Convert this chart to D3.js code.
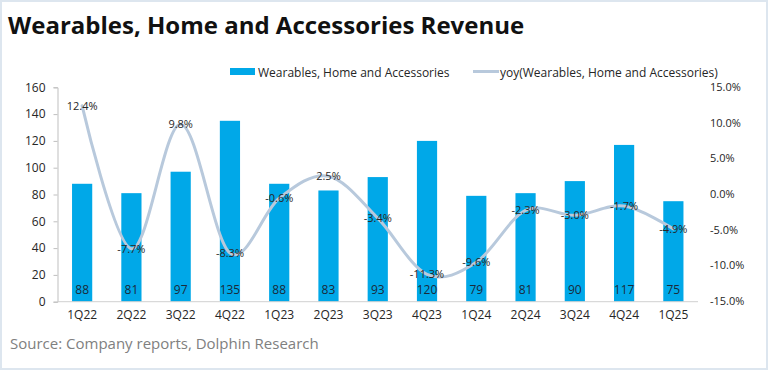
<!DOCTYPE html>
<html><head><meta charset="utf-8">
<script src="https://cdn.jsdelivr.net/npm/d3@7"></script>
<style>body{margin:0;background:#fff}svg{display:block}</style>
</head><body>
<svg id="c" width="768" height="370"></svg>
<script>
const categories = ["1Q22","2Q22","3Q22","4Q22","1Q23","2Q23","3Q23","4Q23","1Q24","2Q24","3Q24","4Q24","1Q25"];
const revenue = [88,81,97,135,88,83,93,120,79,81,90,117,75];
const yoy = [12.4,-7.7,9.8,-8.3,-0.6,2.5,-3.4,-11.3,-9.6,-2.3,-3.0,-1.7,-4.9];
const leftTicks = [0,20,40,60,80,100,120,140,160];
const rightTicks = [-15,-10,-5,0,5,10,15];

const svg = d3.select("#c");
const font = "'Open Sans', 'Noto Sans', sans-serif";
svg.append("rect").attr("x",1).attr("y",1).attr("width",766).attr("height",368)
  .attr("fill","#fff").attr("stroke","#dde6ef").attr("stroke-width",2);

const L=57.5, R=698, T=87.3, B=301.7;
const x = d3.scaleBand().domain(categories).range([L,R]).paddingInner(0.59).paddingOuter(0.295);
const y = d3.scaleLinear().domain([0,160]).range([B,T]);
const y2 = d3.scaleLinear().domain([-15,15]).range([B-1,T]);

svg.append("text").attr("x",8).attr("y",34).attr("font-family",font).attr("font-weight",700)
  .attr("font-size",24).attr("fill","#111").text("Wearables, Home and Accessories Revenue");

// left axis
const gl = svg.append("g").attr("transform",`translate(${L},0)`)
  .call(d3.axisLeft(y).tickValues(leftTicks).tickSize(4).tickPadding(8));
gl.select(".domain").attr("stroke","#bfbfbf");
gl.selectAll(".tick line").attr("stroke","#bfbfbf");
gl.selectAll("text").attr("font-family",font).attr("font-size",12).attr("fill","#262626");

// right axis labels
const gr = svg.append("g").attr("transform",`translate(${R},0)`)
  .call(d3.axisRight(y2).tickValues(rightTicks).tickSize(0).tickPadding(12).tickFormat(d=>d.toFixed(1)+"%"));
gr.select(".domain").remove();
gr.selectAll("text").attr("font-family",font).attr("font-size",11).attr("fill","#262626");

// bars
svg.append("g").selectAll("rect").data(categories).join("rect")
  .attr("x",d=>x(d)).attr("width",x.bandwidth())
  .attr("y",(d,i)=>y(revenue[i])).attr("height",(d,i)=>y(0)-y(revenue[i]))
  .attr("fill","#00a8e8");

// x axis
const gx = svg.append("g").attr("transform",`translate(0,${B})`)
  .call(d3.axisBottom(x).tickSize(0).tickPadding(9));
gx.select(".domain").attr("stroke","#d0d0d0").attr("d",`M${L},0H${R}`);
gx.selectAll("text").attr("font-family",font).attr("font-size",12).attr("fill","#262626");

// bar labels
svg.append("g").selectAll("text").data(categories).join("text")
  .attr("x",d=>x(d)+x.bandwidth()/2).attr("y",B-8)
  .attr("text-anchor","middle").attr("font-family",font).attr("font-size",12).attr("fill","#1a2a3a")
  .text((d,i)=>revenue[i]);

// yoy line
const line = d3.line().x((d,i)=>x(categories[i])+x.bandwidth()/2).y(d=>y2(d)).curve(d3.curveCardinal.tension(0));
svg.append("path").datum(yoy).attr("d",line).attr("fill","none")
  .attr("stroke","#b8c9dc").attr("stroke-width",3).attr("stroke-linecap","round");

svg.append("g").selectAll("text").data(yoy).join("text")
  .attr("x",(d,i)=>x(categories[i])+x.bandwidth()/2).attr("y",d=>y2(d)+4)
  .attr("text-anchor","middle").attr("font-family",font).attr("font-size",11).attr("fill","#262626")
  .text(d=>d.toFixed(1)+"%");

// legend
const lg = svg.append("g").attr("font-family",font).attr("font-size",12).attr("fill","#262626");
lg.append("rect").attr("x",230).attr("y",68).attr("width",25).attr("height",7).attr("fill","#00a8e8");
lg.append("text").attr("x",258).attr("y",76.5).text("Wearables, Home and Accessories");
lg.append("line").attr("x1",473).attr("x2",499).attr("y1",71.5).attr("y2",71.5).attr("stroke","#b8c9dc").attr("stroke-width",3);
lg.append("text").attr("x",500).attr("y",76.5).text("yoy(Wearables, Home and Accessories)");

svg.append("text").attr("x",10).attr("y",349).attr("font-family",font).attr("font-size",15)
  .attr("fill","#808080").text("Source: Company reports, Dolphin Research");
</script>
</body></html>
